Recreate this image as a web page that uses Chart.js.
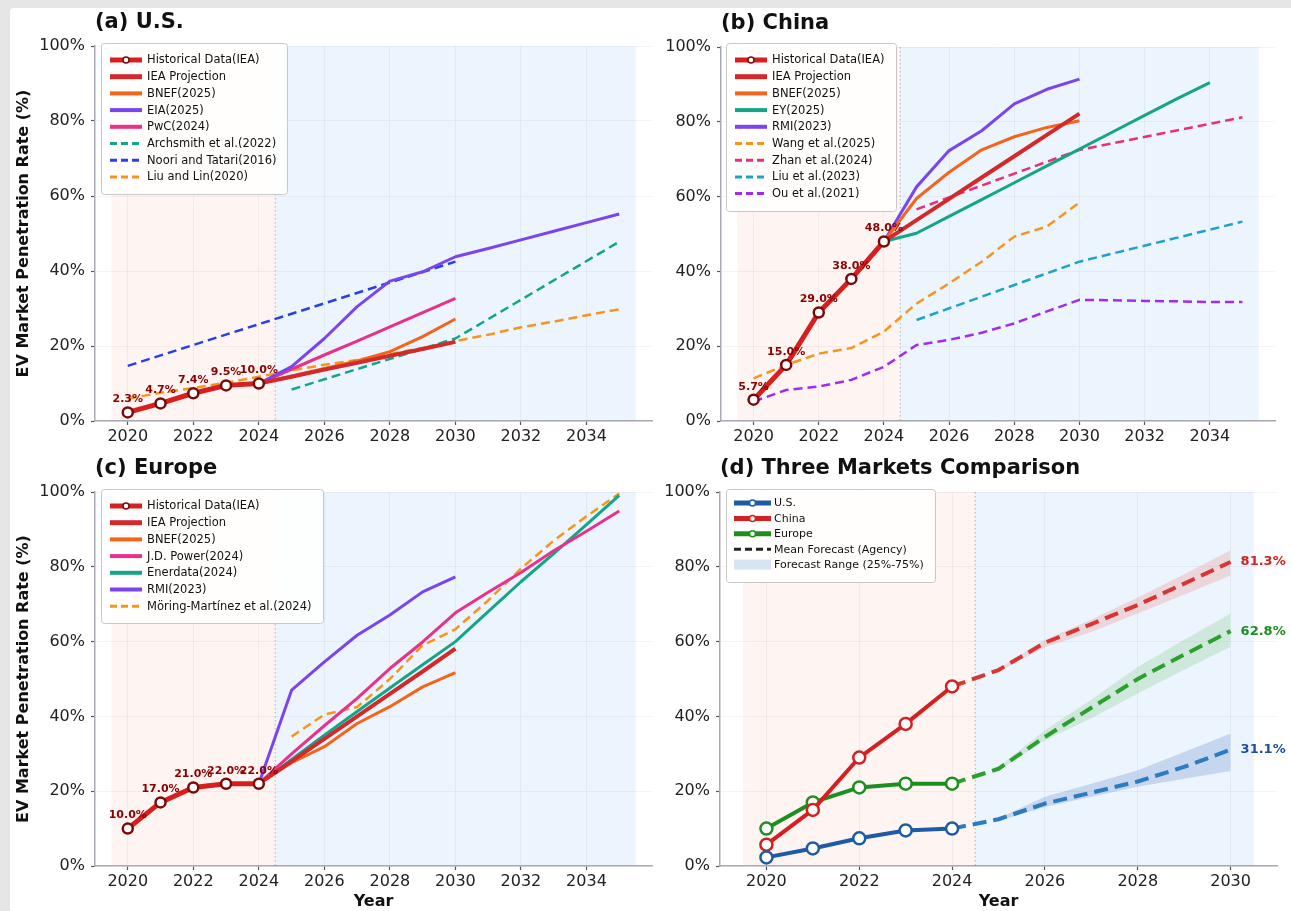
<!DOCTYPE html>
<html>
<head>
<meta charset="utf-8">
<script src="https://cdn.jsdelivr.net/npm/chart.js@4.4.1/dist/chart.umd.min.js"></script>
<style>
html, body { margin: 0; padding: 0; background: #e6e6e6; width: 1291px; height: 911px; overflow: hidden; }
#sheet { position: absolute; left: 10px; top: 8px; width: 1281px; height: 903px; background: #fff; border-top-left-radius: 4px; }
canvas { position: absolute; }
</style>
</head>
<body>
<div id="sheet"></div>
<canvas id="cA" width="660" height="450" style="left:0;top:0"></canvas>
<canvas id="cB" width="635" height="450" style="left:656px;top:0"></canvas>
<canvas id="cC" width="660" height="471" style="left:0;top:440px"></canvas>
<canvas id="cD" width="635" height="471" style="left:656px;top:440px"></canvas>
<script>
// ---- data ----
const yearsHist = [2020, 2021, 2022, 2023, 2024];
const yearsProj = [2024, 2025, 2026, 2027, 2028, 2029, 2030];
const yearsLong = [2024, 2025, 2026, 2027, 2028, 2029, 2030, 2031, 2032, 2033, 2034, 2035];
const yearsAll = [2020, 2021, 2022, 2023, 2024, 2025, 2026, 2027, 2028, 2029, 2030, 2031, 2032, 2033, 2034, 2035];
const xTicksLong = [2020, 2022, 2024, 2026, 2028, 2030, 2032, 2034];
const xTicksShort = [2020, 2022, 2024, 2026, 2028, 2030];
const yTicks = [0, 20, 40, 60, 80, 100];

const usHist = [2.3, 4.7, 7.4, 9.5, 10.0];
const cnHist = [5.7, 15.0, 29.0, 38.0, 48.0];
const euHist = [10.0, 17.0, 21.0, 22.0, 22.0];

// (a) U.S.
const usIEA = [10, 11.8, 13.7, 15.5, 17.4, 19.2, 21.1];
const usBNEF = [10, 12, 14, 16, 18.5, 22.5, 27.2];
const usEIA = [10, 14.5, 22, 30.5, 37.3, 39.8, 43.8, 46, 48.3, 50.6, 52.9, 55.2];
const usPwC = [10, 13.8, 17.6, 21.3, 25.1, 28.9, 32.7];
const usArchYears = [2025, 2030, 2035];
const usArch = [8.4, 22, 47.8];
const usNooriYears = [2020, 2030];
const usNoori = [14.7, 42.5];
const usLiuLin = [6, 7.5, 8.8, 10.2, 11.8, 13.5, 15, 16.3, 17.8, 19.5, 21.3, 23, 25, 26.5, 28.2, 29.8];

// (b) China
const cnIEA = [48, 53.7, 59.4, 65.1, 70.8, 76.5, 82.2];
const cnBNEF = [48, 59.5, 66.5, 72.5, 76, 78.5, 80.3];
const cnEYYears = [2024, 2025, 2026, 2027, 2028, 2029, 2030, 2031, 2032, 2033, 2034];
const cnEY = [48, 50.2, 54.7, 59.2, 63.7, 68.2, 72.7, 77.2, 81.7, 86.2, 90.5];
const cnRMI = [48, 62.6, 72.3, 77.6, 84.8, 88.7, 91.4];
const cnWangYears = [2020, 2021, 2022, 2023, 2024, 2025, 2026, 2027, 2028, 2029, 2030];
const cnWang = [11.4, 15, 18, 19.5, 23.9, 31.4, 36.8, 42.6, 49.3, 52, 58.4];
const cnPaperYears = [2025, 2030, 2035];
const cnZhan = [56.6, 72.5, 81.2];
const cnLiu = [27, 42.6, 53.3];
const cnOu = [5.2, 8.3, 9.2, 11, 14.5, 20.3, 21.7, 23.6, 26.1, 29.3, 32.4, 32.3, 32.1, 32, 31.8, 31.8];

// (c) Europe
const euIEA = [22, 28, 34, 40, 46, 52, 58.1];
const euBNEF = [22, 27.6, 31.9, 38.1, 42.6, 47.9, 51.7];
const euJD = [22, 30, 37.5, 44.8, 52.8, 59.9, 67.7, 73.2, 78.5, 84.3, 89.5, 94.9];
const euEner = [22, 28.5, 35, 41.3, 47.6, 53.8, 60, 68, 76, 83.5, 91.3, 99.1];
const euRMI = [22, 47, 54.6, 61.7, 67.1, 73.3, 77.3];
const euMoringYears = [2025, 2026, 2027, 2028, 2029, 2030, 2031, 2032, 2033, 2034, 2035];
const euMoring = [34.6, 40.5, 42.5, 50, 59, 63.3, 71, 79.5, 87, 93.5, 99.6];

// (d) comparison
const fcYears = [2024, 2025, 2026, 2027, 2028, 2029, 2030];
const usMean = [10, 12.5, 16.7, 19.6, 22.6, 26.5, 31.1];
const cnMean = [48, 52.4, 59.7, 64.7, 69.8, 75.5, 81.3];
const euMean = [22, 26, 34.5, 42.3, 50, 56.5, 62.8];
const bandYears = [2025, 2026, 2027, 2028, 2029, 2030];
const usLow = [12, 15.8, 18.5, 21.2, 23.3, 25.4];
const usHigh = [12.8, 18.5, 22, 25.6, 30.5, 35.4];
const cnLow = [52, 58.5, 62.6, 67.5, 72.5, 77.7];
const cnHigh = [52.8, 60.5, 65.9, 71.8, 78, 84.4];
const euLow = [25.5, 33.6, 39.5, 46.1, 52.5, 58.6];
const euHigh = [26.5, 36.3, 44.5, 53.2, 60.5, 67.5];

// ---- styling ----
const FONT = '"DejaVu Sans", "Liberation Sans", sans-serif';
Chart.defaults.font.family = FONT;
Chart.defaults.color = '#222';

const HIST = '#d81e1e', IEA = '#d22a2a', BNEF = '#f5641c', PURPLE = '#7b45ee', PINK = '#e8318a',
      TEAL = '#14a589', ORANGE_D = '#f7941d', BLUE_D = '#2a3ee8', PINK_D = '#e8307a',
      CYAN_D = '#1fa2c8', PURPLE_D = '#a12cf0';

const pts = (xs, ys) => xs.map((x, i) => ({x: x, y: ys[i]}));

function hist(label, data, color, edge, r) {
  return {label: label, data: data, borderColor: color, borderWidth: r ? 4 : 5,
    pointRadius: r || 5, pointBackgroundColor: '#fff', pointBorderColor: edge, pointBorderWidth: 2.5,
    marker: true, legendEdge: edge};
}
function solid(label, data, color, w) {
  return {label: label, data: data, borderColor: color, borderWidth: w || 3, pointRadius: 0};
}
function dashed(label, data, color) {
  return {label: label, data: data, borderColor: color, borderWidth: 2.5, pointRadius: 0, borderDash: [9, 5]};
}

function deco(cfg) {
  return {
    id: 'deco',
    beforeDraw(chart) {
      const {ctx, chartArea: a, scales: {x}} = chart;
      ctx.save();
      cfg.spans.forEach(s => {
        const x0 = x.getPixelForValue(s[0]), x1 = x.getPixelForValue(s[1]);
        ctx.fillStyle = s[2];
        ctx.fillRect(x0, a.top, x1 - x0, a.bottom - a.top);
      });
      ctx.restore();
    },
    beforeDatasetsDraw(chart) {
      const {ctx, chartArea: a, scales: {x}} = chart;
      const px = x.getPixelForValue(2024.5);
      ctx.save();
      ctx.strokeStyle = 'rgba(120,120,120,0.55)';
      ctx.lineWidth = 1;
      ctx.setLineDash([1.5, 2.5]);
      ctx.beginPath();
      ctx.moveTo(px, a.top);
      ctx.lineTo(px, a.bottom);
      ctx.stroke();
      ctx.restore();
    },
    afterDatasetsDraw(chart) {
      const {ctx, scales: {x, y}} = chart;
      ctx.save();
      if (cfg.pointLabels) {
        ctx.font = 'bold 11px ' + FONT;
        ctx.fillStyle = '#8b0000';
        ctx.textAlign = 'center';
        ctx.textBaseline = 'middle';
        cfg.pointLabels.forEach((v, i) => {
          ctx.fillText(v.toFixed(1) + '%', x.getPixelForValue(yearsHist[i]), y.getPixelForValue(v) - 13);
        });
      }
      if (cfg.endLabels) {
        ctx.font = 'bold 13px ' + FONT;
        ctx.textAlign = 'left';
        ctx.textBaseline = 'middle';
        cfg.endLabels.forEach(l => {
          ctx.fillStyle = l[1];
          ctx.fillText(l[0].toFixed(1) + '%', x.getPixelForValue(2030) + 10, y.getPixelForValue(l[0]));
        });
      }
      ctx.restore();
    },
    afterDraw(chart) {
      const {ctx, chartArea: a} = chart;
      ctx.save();
      ctx.font = 'bold 21px ' + FONT;
      ctx.fillStyle = '#111';
      ctx.textAlign = 'left';
      ctx.textBaseline = 'alphabetic';
      ctx.fillText(cfg.title, a.left, a.top - 18);

      const L = cfg.legend;
      const bx = a.left + L.dx, by = a.top + L.dy;
      ctx.fillStyle = 'rgba(255,255,255,0.9)';
      ctx.strokeStyle = '#c8c8c8';
      ctx.lineWidth = 1;
      ctx.beginPath();
      ctx.roundRect(bx + 0.5, by + 0.5, L.w, L.h, 3);
      ctx.fill();
      ctx.stroke();
      ctx.font = L.font + 'px ' + FONT;
      ctx.textBaseline = 'middle';
      L.items.forEach((it, i) => {
        const yy = by + L.first + i * L.step;
        const x0 = bx + L.sx0, x1 = bx + L.sx1;
        if (it.rect) {
          ctx.fillStyle = it.rect;
          ctx.fillRect(x0, yy - 5, x1 - x0, 10);
        } else {
          ctx.strokeStyle = it.color;
          ctx.lineWidth = it.width;
          ctx.setLineDash(it.dash || []);
          ctx.beginPath();
          ctx.moveTo(x0, yy);
          ctx.lineTo(x1, yy);
          ctx.stroke();
          ctx.setLineDash([]);
          if (it.edge) {
            ctx.fillStyle = '#fff';
            ctx.strokeStyle = it.edge;
            ctx.lineWidth = 1.5;
            ctx.beginPath();
            ctx.arc((x0 + x1) / 2, yy, 3, 0, Math.PI * 2);
            ctx.fill();
            ctx.stroke();
          }
        }
        ctx.fillStyle = '#111';
        ctx.fillText(it.label, bx + L.tx, yy + 0.5);
      });
      ctx.restore();
    }
  };
}

function legendFrom(datasets) {
  return datasets.filter(d => d.label).map(d => ({
    label: d.label, color: d.borderColor, edge: d.legendEdge,
    width: d.borderDash ? 3 : Math.min(d.borderWidth + 1, 5), dash: d.borderDash ? [7, 4] : null
  }));
}

function makeChart(id, p) {
  return new Chart(document.getElementById(id), {
    type: 'line',
    data: {datasets: p.datasets},
    options: {
      responsive: false,
      animation: false,
      devicePixelRatio: 1,
      layout: {padding: {left: 0, right: p.right, top: p.top, bottom: 0}},
      elements: {line: {tension: 0, borderJoinStyle: 'round', borderCapStyle: 'butt'}},
      plugins: {legend: {display: false}, tooltip: {enabled: false}},
      scales: {
        x: {
          type: 'linear', min: p.xMin, max: p.xMax,
          afterBuildTicks: s => { s.ticks = p.xTicks.map(v => ({value: v})); },
          afterFit: s => { s.height = p.xH; },
          ticks: {callback: v => String(v), autoSkip: false, maxRotation: 0, padding: 2,
            font: {size: 16}, color: '#222'},
          grid: {color: 'rgba(0,0,0,0.045)', tickColor: '#555', tickLength: 4, tickWidth: 1.2},
          border: {display: true, color: '#a9a9b3', width: 1.5},
          title: {display: !!p.xTitle, text: p.xTitle || '', font: {size: 16, weight: 'bold'},
            color: '#111', padding: {top: 0, bottom: 0}}
        },
        y: {
          min: 0, max: 100,
          afterBuildTicks: s => { s.ticks = yTicks.map(v => ({value: v})); },
          afterFit: s => { s.width = p.yW; },
          ticks: {callback: v => v + '%', padding: 6, font: {size: 16}, color: '#222'},
          grid: {color: 'rgba(0,0,0,0.045)', tickColor: '#555', tickLength: 4, tickWidth: 1.2},
          border: {display: true, color: '#a9a9b3', width: 1.5},
          title: {display: !!p.yTitle, text: p.yTitle || '', font: {size: 16, weight: 'bold'},
            color: '#111', padding: {top: 14.4, bottom: 0}}
        }
      }
    },
    plugins: [deco(p.deco)]
  });
}

const spansLong = [[2019.5, 2024.5, 'rgba(250,215,210,0.28)'], [2024.5, 2035.5, 'rgba(200,225,248,0.35)']];
const spansShort = [[2019.5, 2024.5, 'rgba(250,215,210,0.28)'], [2024.5, 2030.5, 'rgba(200,225,248,0.35)']];
const legendBase = {font: 11.5, first: 17, step: 16.7, sx0: 9, sx1: 41, tx: 46};
const Y_TITLE = 'EV Market Penetration Rate (%)';

// (a) U.S.
const dsA = [
  hist('Historical Data(IEA)', pts(yearsHist, usHist), HIST, '#7a0a0a'),
  solid('IEA Projection', pts(yearsProj, usIEA), IEA, 4),
  solid('BNEF(2025)', pts(yearsProj, usBNEF), BNEF),
  solid('EIA(2025)', pts(yearsLong, usEIA), PURPLE),
  solid('PwC(2024)', pts(yearsProj, usPwC), PINK),
  dashed('Archsmith et al.(2022)', pts(usArchYears, usArch), TEAL),
  dashed('Noori and Tatari(2016)', pts(usNooriYears, usNoori), BLUE_D),
  dashed('Liu and Lin(2020)', pts(yearsAll, usLiuLin), ORANGE_D)
];
makeChart('cA', {datasets: dsA, xMin: 2019, xMax: 2036, xTicks: xTicksLong, yW: 95, xH: 29, right: 8, top: 46,
  yTitle: Y_TITLE,
  deco: {title: '(a) U.S.', spans: spansLong, pointLabels: usHist,
    legend: Object.assign({}, legendBase, {dx: 6, dy: -3, w: 186, h: 151, items: legendFrom(dsA)})}});

// (b) China
const dsB = [
  hist('Historical Data(IEA)', pts(yearsHist, cnHist), HIST, '#7a0a0a'),
  solid('IEA Projection', pts(yearsProj, cnIEA), IEA, 4),
  solid('BNEF(2025)', pts(yearsProj, cnBNEF), BNEF),
  solid('EY(2025)', pts(cnEYYears, cnEY), TEAL),
  solid('RMI(2023)', pts(yearsProj, cnRMI), PURPLE),
  dashed('Wang et al.(2025)', pts(cnWangYears, cnWang), ORANGE_D),
  dashed('Zhan et al.(2024)', pts(cnPaperYears, cnZhan), PINK_D),
  dashed('Liu et al.(2023)', pts(cnPaperYears, cnLiu), CYAN_D),
  dashed('Ou et al.(2021)', pts(yearsAll, cnOu), PURPLE_D)
];
makeChart('cB', {datasets: dsB, xMin: 2019, xMax: 2036, xTicks: xTicksLong, yW: 65, xH: 29, right: 16, top: 47,
  deco: {title: '(b) China', spans: spansLong, pointLabels: cnHist,
    legend: Object.assign({}, legendBase, {dx: 5, dy: -4, w: 170, h: 168, items: legendFrom(dsB)})}});

// (c) Europe
const dsC = [
  hist('Historical Data(IEA)', pts(yearsHist, euHist), HIST, '#7a0a0a'),
  solid('IEA Projection', pts(yearsProj, euIEA), IEA, 4),
  solid('BNEF(2025)', pts(yearsProj, euBNEF), BNEF),
  solid('J.D. Power(2024)', pts(yearsLong, euJD), PINK),
  solid('Enerdata(2024)', pts(yearsLong, euEner), TEAL),
  solid('RMI(2023)', pts(yearsProj, euRMI), PURPLE),
  dashed('Möring-Martínez et al.(2024)', pts(euMoringYears, euMoring), ORANGE_D)
];
makeChart('cC', {datasets: dsC, xMin: 2019, xMax: 2036, xTicks: xTicksLong, yW: 95, xH: 45, right: 8, top: 52,
  yTitle: Y_TITLE, xTitle: 'Year',
  deco: {title: '(c) Europe', spans: spansLong, pointLabels: euHist,
    legend: Object.assign({}, legendBase, {dx: 6, dy: -3, w: 222, h: 134, items: legendFrom(dsC)})}});

// (d) Three markets comparison
const US_C = '#1f5aa6', CN_C = '#d42020', EU_C = '#1e8f1e';
const meanDash = [14, 7];
const dsD = [
  hist('U.S.', pts(yearsHist, usHist), US_C, US_C, 6),
  hist('China', pts(yearsHist, cnHist), CN_C, CN_C, 6),
  hist('Europe', pts(yearsHist, euHist), EU_C, EU_C, 6),
  {data: pts(fcYears, usMean), borderColor: '#2b7bbf', borderWidth: 4, borderDash: meanDash, pointRadius: 0},
  {data: pts(fcYears, cnMean), borderColor: '#d93535', borderWidth: 4, borderDash: meanDash, pointRadius: 0},
  {data: pts(fcYears, euMean), borderColor: '#2ca02c', borderWidth: 4, borderDash: meanDash, pointRadius: 0},
  {data: pts(bandYears, usLow), borderWidth: 0, pointRadius: 0, borderColor: 'rgba(0,0,0,0)'},
  {data: pts(bandYears, usHigh), borderWidth: 0, pointRadius: 0, borderColor: 'rgba(0,0,0,0)', fill: '-1', backgroundColor: 'rgba(60,105,185,0.22)'},
  {data: pts(bandYears, cnLow), borderWidth: 0, pointRadius: 0, borderColor: 'rgba(0,0,0,0)'},
  {data: pts(bandYears, cnHigh), borderWidth: 0, pointRadius: 0, borderColor: 'rgba(0,0,0,0)', fill: '-1', backgroundColor: 'rgba(230,90,90,0.2)'},
  {data: pts(bandYears, euLow), borderWidth: 0, pointRadius: 0, borderColor: 'rgba(0,0,0,0)'},
  {data: pts(bandYears, euHigh), borderWidth: 0, pointRadius: 0, borderColor: 'rgba(0,0,0,0)', fill: '-1', backgroundColor: 'rgba(90,180,90,0.2)'}
];
const legendD = legendFrom(dsD).concat([
  {label: 'Mean Forecast (Agency)', color: '#222', width: 3, dash: [7, 4]},
  {label: 'Forecast Range (25%-75%)', rect: '#d9e4f2'}
]);
makeChart('cD', {datasets: dsD, xMin: 2019, xMax: 2031, xTicks: xTicksShort, yW: 64, xH: 45, right: 14, top: 52,
  xTitle: 'Year',
  deco: {title: '(d) Three Markets Comparison', spans: spansShort,
    endLabels: [[cnMean[6], '#d42020'], [euMean[6], '#1e8f1e'], [usMean[6], '#1f4e9c']],
    legend: {font: 11, first: 14, step: 15.4, sx0: 8, sx1: 45, tx: 48, dx: 6, dy: -3, w: 209, h: 93, items: legendD}}});
</script>
</body>
</html>
